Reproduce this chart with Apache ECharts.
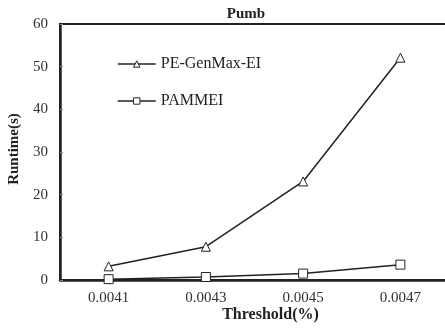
<!DOCTYPE html>
<html>
<head>
<meta charset="utf-8">
<script src="https://cdn.jsdelivr.net/npm/echarts@6/dist/echarts.min.js"></script>
<style>
  html, body { margin: 0; padding: 0; background: #fff; }
  #chart { width: 445px; height: 329px; }
</style>
</head>
<body>
<div id="chart"></div>
<script>
// Runtime of two miners over support thresholds
const thresholds = ['0.0041', '0.0043', '0.0045', '0.0047'];
const peGenMaxEI = [3.2, 7.8, 23.1, 52.1];
const pammei = [0.2, 0.7, 1.5, 3.6];
const yTicks = [0, 10, 20, 30, 40, 50, 60];

const serif = '"Liberation Serif", "DejaVu Serif", serif';
const ink = '#222';

const chart = echarts.init(document.getElementById('chart'), null, { renderer: 'canvas' });

chart.setOption({
  animation: false,
  backgroundColor: '#fff',
  title: {
    text: 'Pumb',
    left: 241,
    textAlign: 'center',
    top: 2,
    textStyle: { fontFamily: serif, fontWeight: 'bold', fontSize: 15, color: ink }
  },
  grid: {
    left: 60, right: -4, top: 24, bottom: 49,
    outerBoundsMode: 'none',
    containLabel: false,
    show: true, borderColor: ink, borderWidth: 2, backgroundColor: 'transparent'
  },
  legend: {
    orient: 'vertical',
    left: 112, top: 51,
    itemGap: 21,
    itemWidth: 38, itemHeight: 8,
    textStyle: { fontFamily: serif, fontSize: 16, color: ink },
    itemStyle: { borderWidth: 1 },
    lineStyle: { width: 1.5 },
    data: ['PE-GenMax-EI', 'PAMMEI']
  },
  xAxis: {
    type: 'category',
    data: thresholds,
    boundaryGap: true,
    name: 'Threshold(%)',
    nameLocation: 'middle',
    nameMoveOverlap: false,
    nameGap: 27,
    nameTextStyle: { fontFamily: serif, fontWeight: 'bold', fontSize: 16, color: ink, padding: [0, 0, 0, 32] },
    axisLine: { lineStyle: { color: ink, width: 2.5 } },
    axisTick: { inside: true, length: 4, lineStyle: { color: ink, width: 1 } },
    axisLabel: { fontFamily: serif, fontSize: 15, color: '#333', margin: 11 }
  },
  yAxis: {
    type: 'value',
    min: yTicks[0], max: yTicks[yTicks.length - 1], interval: 10,
    name: 'Runtime(s)',
    nameLocation: 'middle',
    nameMoveOverlap: false,
    nameGap: 38,
    nameTextStyle: { fontFamily: serif, fontWeight: 'bold', fontSize: 15, color: ink, padding: [0, 0, 0, 6] },
    axisLine: { show: true, lineStyle: { color: ink, width: 2.5 } },
    axisTick: { show: true, inside: true, length: 3, lineStyle: { color: '#888', width: 1 } },
    axisLabel: { fontFamily: serif, fontSize: 15, color: '#333', margin: 12 },
    splitLine: { show: false }
  },
  series: [
    {
      name: 'PE-GenMax-EI',
      type: 'line',
      data: peGenMaxEI,
      symbol: 'triangle',
      symbolSize: 9,
      lineStyle: { color: ink, width: 1.5 },
      itemStyle: { color: '#fff', borderColor: ink, borderWidth: 1 }
    },
    {
      name: 'PAMMEI',
      type: 'line',
      data: pammei,
      symbol: 'rect',
      symbolSize: 9,
      lineStyle: { color: ink, width: 1.5 },
      itemStyle: { color: '#fff', borderColor: ink, borderWidth: 1 }
    }
  ]
});
</script>
</body>
</html>
